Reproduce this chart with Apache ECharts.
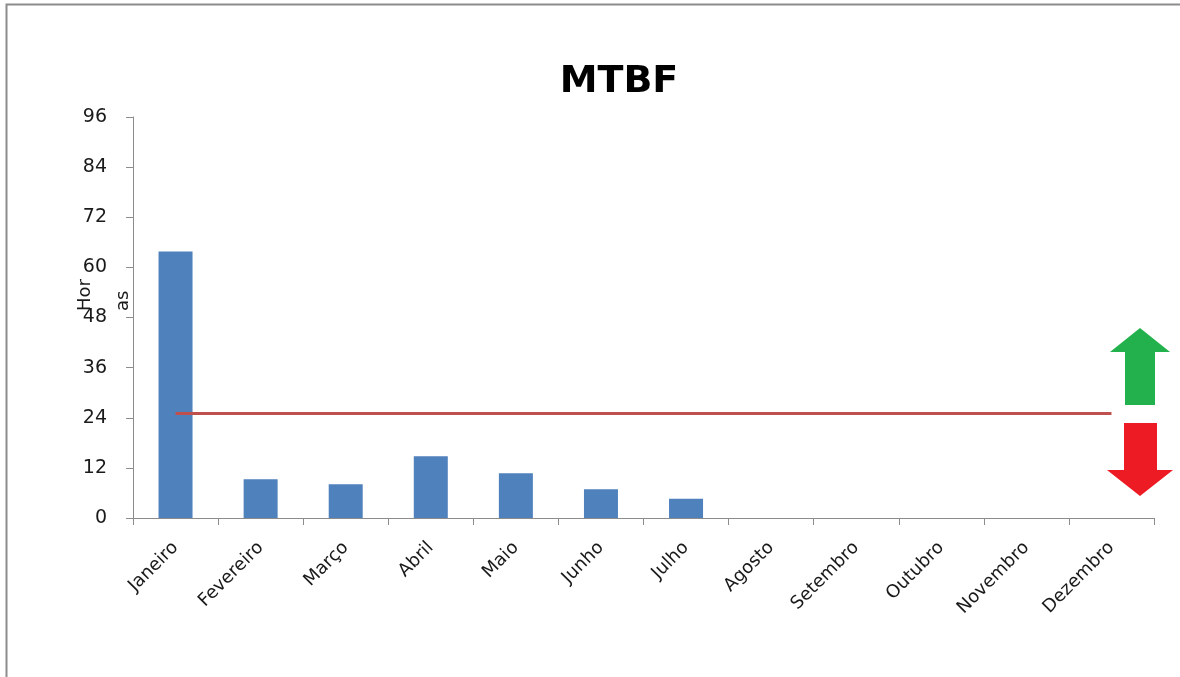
<!DOCTYPE html>
<html>
<head>
<meta charset="utf-8">
<script src="https://cdn.jsdelivr.net/npm/echarts@6/dist/echarts.min.js"></script>
<style>
html,body{margin:0;padding:0;background:#fff;}
#chart{width:1180px;height:677px;}
</style>
</head>
<body>
<div id="chart"></div>
<script>
const categories = ['Janeiro','Fevereiro','Março','Abril','Maio','Junho','Julho','Agosto','Setembro','Outubro','Novembro','Dezembro'];
const mtbfValues = [63.8, 9.3, 8.1, 14.8, 10.7, 6.9, 4.6, null, null, null, null, null];
const targetValues = [25, 25, 25, 25, 25, 25, 25, 25, 25, 25, 25, 25];
const yTicks = { min: 0, max: 96, interval: 12 };
const yAxisTitle = 'Hor\nas';

const FONT = '"DejaVu Sans", sans-serif';
const chart = echarts.init(document.getElementById('chart'));
chart.setOption({
  backgroundColor: '#fff',
  animation: false,
  title: {
    text: 'MTBF',
    left: 614, top: 58, textAlign: 'center',
    textStyle: { fontFamily: FONT, fontWeight: 'bold', fontSize: 38, color: '#000' }
  },
  grid: { left: 133, right: 26, top: 117, bottom: 159, containLabel: false, outerBoundsMode: 'none' },
  xAxis: {
    type: 'category',
    data: categories,
    boundaryGap: true,
    axisLine: { lineStyle: { color: '#8c8c8c', width: 1 } },
    axisTick: { show: true, alignWithLabel: false, length: 7, lineStyle: { color: '#8c8c8c' } },
    axisLabel: { rotate: 45, interval: 0, margin: 27, fontFamily: FONT, fontSize: 18, color: '#1a1a1a' }
  },
  yAxis: {
    type: 'value',
    min: yTicks.min, max: yTicks.max, interval: yTicks.interval,
    axisLine: { show: true, lineStyle: { color: '#8c8c8c', width: 1 } },
    axisTick: { show: true, length: 7, lineStyle: { color: '#8c8c8c' } },
    axisLabel: { margin: 26, fontFamily: FONT, fontSize: 19, color: '#1a1a1a' },
    splitLine: { show: false }
  },
  series: [
    {
      type: 'bar',
      data: mtbfValues,
      barWidth: 34,
      itemStyle: { color: '#4F81BD' }
    },
    {
      type: 'line',
      data: targetValues,
      symbol: 'none',
      lineStyle: { color: '#C0504D', width: 3 },
      z: 5
    }
  ],
  graphic: [
    { type: 'rect', left: 4, top: 2, shape: { width: 1200, height: 700 },
      style: { fill: 'none', stroke: '#8c8c8c', lineWidth: 2 }, silent: true },
    { type: 'text', x: 104, y: 311, rotation: Math.PI / 2,
      style: { text: yAxisTitle, x: 0, y: 0, align: 'left', verticalAlign: 'middle',
               font: '18px "DejaVu Sans", sans-serif', lineHeight: 38, fill: '#1a1a1a' } },
    { type: 'polygon', shape: { points: [[1140,328],[1170,352],[1155,352],[1155,405],[1125,405],[1125,352],[1110,352]] },
      style: { fill: '#22B14C' } },
    { type: 'polygon', shape: { points: [[1124,423],[1157,423],[1157,470],[1173,470],[1140,496],[1107,470],[1124,470]] },
      style: { fill: '#ED1C24' } }
  ]
});
</script>
</body>
</html>
